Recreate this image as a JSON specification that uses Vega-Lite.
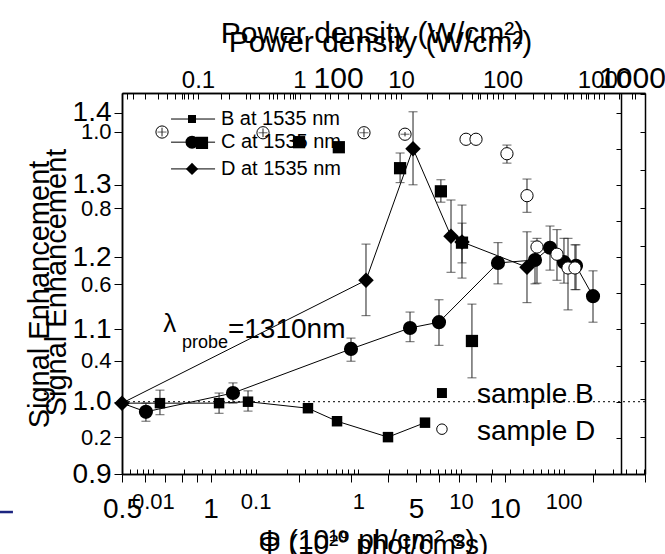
{
"$schema":"https://vega.github.io/schema/vega-lite/v6.json",
"width":523,"height":381,
"autosize":{"type":"none"},
"padding":{"left":122,"top":93,"right":20,"bottom":80},
"background":"white",
"config":{
 "font":"Liberation Sans",
 "view":{"stroke":null},
 "axis":{"grid":false,"domainColor":"#000","domainWidth":1.5,"tickColor":"#000","tickWidth":1,"labelColor":"#000","titleColor":"#000","titleFontWeight":"normal","labelFont":"Liberation Sans","titleFont":"Liberation Sans","labelOverlap":false,"labelFlush":false,"labelBound":false}
},
"datasets":{
 "pts":[
  {"set":"B","phi":0.5,"se":0.998,"start":1},
  {"set":"B","phi":0.673,"se":0.998,"lo":0.982,"hi":1.016},
  {"set":"B","phi":1.069,"se":0.998,"lo":0.984,"hi":1.012},
  {"set":"B","phi":1.341,"se":1.0,"lo":0.987,"hi":1.015},
  {"set":"B","phi":2.144,"se":0.991},
  {"set":"B","phi":2.692,"se":0.973},
  {"set":"B","phi":4.012,"se":0.951},
  {"set":"B","phi":5.36,"se":0.971},
  {"set":"C","phi":0.5,"se":0.998,"start":1},
  {"set":"C","phi":0.603,"se":0.986,"lo":0.973,"hi":0.998},
  {"set":"C","phi":1.192,"se":1.012,"lo":0.998,"hi":1.026},
  {"set":"C","phi":3.003,"se":1.073,"lo":1.056,"hi":1.088},
  {"set":"C","phi":4.767,"se":1.102,"lo":1.083,"hi":1.124},
  {"set":"C","phi":5.98,"se":1.11,"lo":1.078,"hi":1.141},
  {"set":"C","phi":9.49,"se":1.192,"lo":1.163,"hi":1.22},
  {"set":"C","phi":12.68,"se":1.196,"lo":1.163,"hi":1.222},
  {"set":"C","phi":14.26,"se":1.213,"lo":1.182,"hi":1.243},
  {"set":"C","phi":15.91,"se":1.193,"lo":1.164,"hi":1.226},
  {"set":"C","phi":17.48,"se":1.188,"lo":1.155,"hi":1.217},
  {"set":"C","phi":19.97,"se":1.146,"lo":1.11,"hi":1.181},
  {"set":"D","phi":0.5,"se":0.998},
  {"set":"D","phi":3.377,"se":1.168,"lo":1.119,"hi":1.218},
  {"set":"D","phi":4.88,"se":1.35,"lo":1.3,"hi":1.401},
  {"set":"D","phi":6.57,"se":1.229,"lo":1.179,"hi":1.279},
  {"set":"D","phi":7.16,"se":1.221,"lo":1.171,"hi":1.272},
  {"set":"D","phi":11.91,"se":1.186,"lo":1.137,"hi":1.235},
  {"set":"sB","phi":0.935,"se":1.358},
  {"set":"sB","phi":2.0,"se":1.359},
  {"set":"sB","phi":2.73,"se":1.352},
  {"set":"sB","phi":4.41,"se":1.323,"lo":1.303,"hi":1.344},
  {"set":"sB","phi":6.07,"se":1.291,"lo":1.276,"hi":1.307},
  {"set":"sB","phi":7.16,"se":1.22,"lo":1.192,"hi":1.247},
  {"set":"sB","phi":7.74,"se":1.084,"lo":1.033,"hi":1.135},
  {"set":"sD","phi":0.684,"se":1.373,"lo":1.367,"hi":1.379},
  {"set":"sD","phi":1.508,"se":1.372,"lo":1.366,"hi":1.378},
  {"set":"sD","phi":3.324,"se":1.372,"lo":1.366,"hi":1.378},
  {"set":"sD","phi":4.583,"se":1.37,"lo":1.367,"hi":1.373},
  {"set":"sD","phi":7.39,"se":1.363},
  {"set":"sD","phi":7.99,"se":1.363},
  {"set":"sD","phi":10.18,"se":1.343,"lo":1.33,"hi":1.355},
  {"set":"sD","phi":11.91,"se":1.285,"lo":1.262,"hi":1.308},
  {"set":"sD","phi":12.88,"se":1.214,"lo":1.164,"hi":1.226},
  {"set":"sD","phi":15.06,"se":1.204,"lo":1.168,"hi":1.238},
  {"set":"sD","phi":16.42,"se":1.185,"lo":1.127,"hi":1.226},
  {"set":"sD","phi":17.34,"se":1.185,"lo":1.155,"hi":1.217}
 ],
 "legend":[
  {"s":"B","x1":0.734,"x2":1.036,"xm":0.865,"xt":1.085,"se":1.391,"text":"B at 1535 nm"},
  {"s":"C","x1":0.734,"x2":1.036,"xm":0.865,"xt":1.085,"se":1.359,"text":"C at 1535 nm"},
  {"s":"D","x1":0.734,"x2":1.036,"xm":0.865,"xt":1.085,"se":1.322,"text":"D at 1535 nm"}
 ],
 "keys":[
  {"k":"sample B","phi":6.12,"se":1.012},
  {"k":"sample D","phi":6.12,"se":0.962}
 ],
 "notes":[
  {"kind":"lambda","phi":0.69,"se":1.096,"text":"λ"},
  {"kind":"sub","phi":0.8,"se":1.074,"text":"probe"},
  {"kind":"big","phi":1.146,"se":1.088,"text":"=1310nm"},
  {"kind":"big","phi":8.05,"se":0.998,"text":"sample B"},
  {"kind":"big","phi":8.05,"se":0.947,"text":"sample D"}
 ]
},
"layer":[
 {
  "layer":[
   {"data":{"values":[{"se":1.0}]},"mark":{"type":"rule","color":"#000","strokeWidth":1,"strokeDash":[2,3]},
    "encoding":{"y":{"field":"se","type":"quantitative","scale":{"domain":[0.9,1.427],"nice":false,"zero":false},"axis":null}}},
   {"data":{"values":[{"phi":0.1923,"phi2":0.2129,"se":0.8474}]},"mark":{"type":"rule","color":"#1c2580","strokeWidth":2.5},
    "encoding":{"x":{"field":"phi","type":"quantitative","scale":{"type":"log","domain":[0.5,30],"nice":false},"axis":null},"x2":{"field":"phi2"},
     "y":{"field":"se","type":"quantitative","scale":{"domain":[0.9,1.427],"nice":false,"zero":false},"axis":null}}},
   {"data":{"name":"pts"},"transform":[{"filter":"datum.set === 'B' || datum.set === 'C' || datum.set === 'D'"}],
    "mark":{"type":"line","color":"#000","strokeWidth":1},
    "encoding":{"x":{"field":"phi","type":"quantitative","scale":{"type":"log","domain":[0.5,30],"nice":false},"axis":null},
     "y":{"field":"se","type":"quantitative","scale":{"domain":[0.9,1.427],"nice":false,"zero":false},"axis":null},
     "detail":{"field":"set"},"order":{"field":"phi"}}},
   {"data":{"name":"pts"},"transform":[{"filter":"isValid(datum.lo)"}],
    "mark":{"type":"rule","color":"#222","strokeWidth":1},
    "encoding":{"x":{"field":"phi","type":"quantitative","scale":{"type":"log","domain":[0.5,30],"nice":false},"axis":null},
     "y":{"field":"lo","type":"quantitative","scale":{"domain":[0.9,1.427],"nice":false,"zero":false},"axis":null},"y2":{"field":"hi"}}},
   {"data":{"name":"pts"},"transform":[{"filter":"isValid(datum.lo)"}],
    "mark":{"type":"tick","orient":"horizontal","size":9,"thickness":1,"color":"#222"},
    "encoding":{"x":{"field":"phi","type":"quantitative","scale":{"type":"log","domain":[0.5,30],"nice":false},"axis":null},
     "y":{"field":"lo","type":"quantitative","scale":{"domain":[0.9,1.427],"nice":false,"zero":false},"axis":null}}},
   {"data":{"name":"pts"},"transform":[{"filter":"isValid(datum.hi)"}],
    "mark":{"type":"tick","orient":"horizontal","size":9,"thickness":1,"color":"#222"},
    "encoding":{"x":{"field":"phi","type":"quantitative","scale":{"type":"log","domain":[0.5,30],"nice":false},"axis":null},
     "y":{"field":"hi","type":"quantitative","scale":{"domain":[0.9,1.427],"nice":false,"zero":false},"axis":null}}},
   {"data":{"name":"pts"},"transform":[{"filter":"datum.set === 'B' && !datum.start"}],
    "mark":{"type":"point","shape":"square","size":110,"filled":true,"color":"#000","opacity":1},
    "encoding":{"x":{"field":"phi","type":"quantitative","scale":{"type":"log","domain":[0.5,30],"nice":false},"axis":null},
     "y":{"field":"se","type":"quantitative","scale":{"domain":[0.9,1.427],"nice":false,"zero":false},"axis":null}}},
   {"data":{"name":"pts"},"transform":[{"filter":"datum.set === 'sB'"}],
    "mark":{"type":"point","shape":"square","size":150,"filled":true,"color":"#000","opacity":1},
    "encoding":{"x":{"field":"phi","type":"quantitative","scale":{"type":"log","domain":[0.5,30],"nice":false},"axis":null},
     "y":{"field":"se","type":"quantitative","scale":{"domain":[0.9,1.427],"nice":false,"zero":false},"axis":null}}},
   {"data":{"name":"pts"},"transform":[{"filter":"datum.set === 'C' && !datum.start"}],
    "mark":{"type":"point","shape":"circle","size":200,"filled":true,"color":"#000","opacity":1},
    "encoding":{"x":{"field":"phi","type":"quantitative","scale":{"type":"log","domain":[0.5,30],"nice":false},"axis":null},
     "y":{"field":"se","type":"quantitative","scale":{"domain":[0.9,1.427],"nice":false,"zero":false},"axis":null}}},
   {"data":{"name":"pts"},"transform":[{"filter":"datum.set === 'D'"}],
    "mark":{"type":"point","shape":"diamond","size":240,"filled":true,"color":"#000","opacity":1},
    "encoding":{"x":{"field":"phi","type":"quantitative","scale":{"type":"log","domain":[0.5,30],"nice":false},"axis":null},
     "y":{"field":"se","type":"quantitative","scale":{"domain":[0.9,1.427],"nice":false,"zero":false},"axis":null}}},
   {"data":{"name":"pts"},"transform":[{"filter":"datum.set === 'sD'"}],
    "mark":{"type":"point","shape":"circle","size":150,"fill":"#fff","stroke":"#000","strokeWidth":1,"opacity":1},
    "encoding":{"x":{"field":"phi","type":"quantitative","scale":{"type":"log","domain":[0.5,30],"nice":false},"axis":null},
     "y":{"field":"se","type":"quantitative","scale":{"domain":[0.9,1.427],"nice":false,"zero":false},"axis":null}}},
   {"data":{"name":"pts"},"transform":[{"filter":"datum.set === 'sD' && isValid(datum.lo) && datum.hi - datum.lo < 0.02"}],
    "mark":{"type":"rule","color":"#222","strokeWidth":1},
    "encoding":{"x":{"field":"phi","type":"quantitative","scale":{"type":"log","domain":[0.5,30],"nice":false},"axis":null},
     "y":{"field":"lo","type":"quantitative","scale":{"domain":[0.9,1.427],"nice":false,"zero":false},"axis":null},"y2":{"field":"hi"}}},
   {"data":{"name":"pts"},"transform":[{"filter":"datum.set === 'sD' && isValid(datum.lo) && datum.hi - datum.lo < 0.02"}],
    "mark":{"type":"tick","orient":"horizontal","size":9,"thickness":1,"color":"#222"},
    "encoding":{"x":{"field":"phi","type":"quantitative","scale":{"type":"log","domain":[0.5,30],"nice":false},"axis":null},
     "y":{"field":"se","type":"quantitative","scale":{"domain":[0.9,1.427],"nice":false,"zero":false},"axis":null}}},
   {"data":{"name":"legend"},"mark":{"type":"rule","color":"#000","strokeWidth":1},
    "encoding":{"x":{"field":"x1","type":"quantitative","scale":{"type":"log","domain":[0.5,30],"nice":false},"axis":null},"x2":{"field":"x2"},
     "y":{"field":"se","type":"quantitative","scale":{"domain":[0.9,1.427],"nice":false,"zero":false},"axis":null}}},
   {"data":{"name":"legend"},"transform":[{"filter":"datum.s === 'B'"}],"mark":{"type":"point","shape":"square","size":64,"filled":true,"color":"#000","opacity":1},
    "encoding":{"x":{"field":"xm","type":"quantitative","scale":{"type":"log","domain":[0.5,30],"nice":false},"axis":null},
     "y":{"field":"se","type":"quantitative","scale":{"domain":[0.9,1.427],"nice":false,"zero":false},"axis":null}}},
   {"data":{"name":"legend"},"transform":[{"filter":"datum.s === 'C'"}],"mark":{"type":"point","shape":"circle","size":170,"filled":true,"color":"#000","opacity":1},
    "encoding":{"x":{"field":"xm","type":"quantitative","scale":{"type":"log","domain":[0.5,30],"nice":false},"axis":null},
     "y":{"field":"se","type":"quantitative","scale":{"domain":[0.9,1.427],"nice":false,"zero":false},"axis":null}}},
   {"data":{"name":"legend"},"transform":[{"filter":"datum.s === 'D'"}],"mark":{"type":"point","shape":"diamond","size":150,"filled":true,"color":"#000","opacity":1},
    "encoding":{"x":{"field":"xm","type":"quantitative","scale":{"type":"log","domain":[0.5,30],"nice":false},"axis":null},
     "y":{"field":"se","type":"quantitative","scale":{"domain":[0.9,1.427],"nice":false,"zero":false},"axis":null}}},
   {"data":{"name":"legend"},"mark":{"type":"text","align":"left","baseline":"middle","fontSize":20,"font":"Liberation Sans","color":"#000"},
    "encoding":{"x":{"field":"xt","type":"quantitative","scale":{"type":"log","domain":[0.5,30],"nice":false},"axis":null},
     "y":{"field":"se","type":"quantitative","scale":{"domain":[0.9,1.427],"nice":false,"zero":false},"axis":null},"text":{"field":"text"}}},
   {"data":{"name":"keys"},"transform":[{"filter":"datum.k === 'sample B'"}],"mark":{"type":"point","shape":"square","size":100,"filled":true,"color":"#000","opacity":1},
    "encoding":{"x":{"field":"phi","type":"quantitative","scale":{"type":"log","domain":[0.5,30],"nice":false},"axis":null},
     "y":{"field":"se","type":"quantitative","scale":{"domain":[0.9,1.427],"nice":false,"zero":false},"axis":null}}},
   {"data":{"name":"keys"},"transform":[{"filter":"datum.k === 'sample D'"}],"mark":{"type":"point","shape":"circle","size":110,"fill":"#fff","stroke":"#000","strokeWidth":1,"opacity":1},
    "encoding":{"x":{"field":"phi","type":"quantitative","scale":{"type":"log","domain":[0.5,30],"nice":false},"axis":null},
     "y":{"field":"se","type":"quantitative","scale":{"domain":[0.9,1.427],"nice":false,"zero":false},"axis":null}}},
   {"data":{"name":"notes"},"transform":[{"filter":"datum.kind === 'big'"}],"mark":{"type":"text","align":"left","baseline":"alphabetic","fontSize":28,"font":"Liberation Sans","color":"#000"},
    "encoding":{"x":{"field":"phi","type":"quantitative","scale":{"type":"log","domain":[0.5,30],"nice":false},"axis":null},
     "y":{"field":"se","type":"quantitative","scale":{"domain":[0.9,1.427],"nice":false,"zero":false},"axis":null},"text":{"field":"text"}}},
   {"data":{"name":"notes"},"transform":[{"filter":"datum.kind === 'sub'"}],"mark":{"type":"text","align":"left","baseline":"alphabetic","fontSize":18,"font":"Liberation Sans","color":"#000"},
    "encoding":{"x":{"field":"phi","type":"quantitative","scale":{"type":"log","domain":[0.5,30],"nice":false},"axis":null},
     "y":{"field":"se","type":"quantitative","scale":{"domain":[0.9,1.427],"nice":false,"zero":false},"axis":null},"text":{"field":"text"}}},
   {"data":{"name":"notes"},"transform":[{"filter":"datum.kind === 'lambda'"}],"mark":{"type":"text","align":"left","baseline":"alphabetic","fontSize":26,"font":"Liberation Sans","color":"#000"},
    "encoding":{"x":{"field":"phi","type":"quantitative","scale":{"type":"log","domain":[0.5,30],"nice":false},"axis":null},
     "y":{"field":"se","type":"quantitative","scale":{"domain":[0.9,1.427],"nice":false,"zero":false},"axis":null},"text":{"field":"text"}}}
  ]
 },
 {"data":{"values":[{"v":1}]},"mark":{"type":"point","opacity":0},
  "encoding":{
   "x":{"field":"v","type":"quantitative","scale":{"type":"log","domain":[0.5,30],"nice":false},
    "axis":{"orient":"bottom","values":[0.5,0.6,0.7,0.8,0.9,1,2,3,4,5,6,7,8,9,10,20,30],"format":"~g","labelExpr":"indexof([0.5,1,5,10], datum.value) >= 0 ? datum.label : ''","tickSize":8,"labelFontSize":28,"labelBaseline":"alphabetic","labelPadding":35,"title":"Φ (10²⁰ phot/cm²s)","titleFontSize":28,"titleAlign":"left","titleX":136,"titleY":79,"titleBaseline":"alphabetic"}},
   "y":{"field":"v","type":"quantitative","scale":{"domain":[0.9,1.427],"nice":false,"zero":false},
    "axis":{"orient":"left","values":[0.9,1.0,1.1,1.2,1.3,1.4],"format":".1f","tickSize":8,"labelFontSize":28,"labelPadding":3,"title":"Signal Enhancement","titleFontSize":29,"titleAngle":270,"titleX":-57,"titleY":189,"titleAlign":"center","titleBaseline":"alphabetic"}}
  }},
 {"data":{"values":[{"v":1}]},"mark":{"type":"point","opacity":0},
  "encoding":{
   "x":{"field":"v","type":"quantitative","scale":{"type":"log","domain":[18.4,1107],"nice":false},
    "axis":{"orient":"top","values":[20,30,40,50,60,70,80,90,100,200,300,400,500,600,700,800,900,1000],"format":"~g","labelExpr":"indexof([100,1000], datum.value) >= 0 ? datum.label : ''","tickSize":-6,"labelFontSize":30,"labelBaseline":"alphabetic","labelPadding":12,"title":"Power density (W/cm²)","titleFontSize":30,"titleX":258,"titleY":-42,"titleAlign":"center","titleBaseline":"alphabetic"}},
   "y":{"field":"v","type":"quantitative","scale":{"domain":[0.9,1.427],"nice":false,"zero":false},
    "axis":{"orient":"right","offset":-24,"values":[0.9,0.95,1.0,1.05,1.1,1.15,1.2,1.25,1.3,1.35,1.4],"labels":false,"tickSize":-5,"title":null}}
  }},
 {"data":{"values":[{"v":1}]},"mark":{"type":"point","opacity":0},
  "encoding":{
   "x":{"field":"v","type":"quantitative","scale":{"type":"log","domain":[0.005,618.6],"nice":false},
    "axis":{"orient":"bottom","values":[0.005,0.006,0.007,0.008,0.009,0.01,0.02,0.03,0.04,0.05,0.06,0.07,0.08,0.09,0.1,0.2,0.3,0.4,0.5,0.6,0.7,0.8,0.9,1,2,3,4,5,6,7,8,9,10,20,30,40,50,60,70,80,90,100,200,300,400,500,600],"format":"~g","labelExpr":"abs(log(datum.value)/LN10 - round(log(datum.value)/LN10)) < 0.000001 ? datum.label : ''","tickSize":-5,"labelFontSize":22,"labelBaseline":"alphabetic","labelPadding":39,"title":"Φ (10¹⁹ ph/cm² s)","titleFontSize":28,"titleAlign":"left","titleX":136,"titleY":74,"titleBaseline":"alphabetic"}},
   "y":{"field":"v","type":"quantitative","scale":{"domain":[0.103,1.102],"nice":false,"zero":false},
    "axis":{"orient":"left","values":[0.2,0.4,0.6,0.8,1.0],"format":".1f","tickSize":8,"labelFontSize":22,"labelPadding":3,"title":"Signal Enhancement","titleFontSize":29,"titleAngle":270,"titleX":-74,"titleY":201,"titleAlign":"center","titleBaseline":"alphabetic"}}
  }},
 {"data":{"values":[{"v":1}]},"mark":{"type":"point","opacity":0},
  "encoding":{
   "x":{"field":"v","type":"quantitative","scale":{"type":"log","domain":[0.01783,2534],"nice":false},
    "axis":{"orient":"top","values":[0.02,0.03,0.04,0.05,0.06,0.07,0.08,0.09,0.1,0.2,0.3,0.4,0.5,0.6,0.7,0.8,0.9,1,2,3,4,5,6,7,8,9,10,20,30,40,50,60,70,80,90,100,200,300,400,500,600,700,800,900,1000,2000],"format":"~g","labelExpr":"abs(log(datum.value)/LN10 - round(log(datum.value)/LN10)) < 0.000001 ? datum.label : ''","tickSize":-6,"labelFontSize":24,"labelBaseline":"alphabetic","labelPadding":12,"title":"Power density (W/cm²)","titleFontSize":30,"titleX":250,"titleY":-51,"titleAlign":"center","titleBaseline":"alphabetic"}},
   "y":{"field":"v","type":"quantitative","scale":{"domain":[0.103,1.102],"nice":false,"zero":false},
    "axis":{"orient":"right","values":[0.2,0.3,0.4,0.5,0.6,0.7,0.8,0.9,1.0,1.1],"labels":false,"tickSize":-5,"title":null}}
  }}
],
"resolve":{"scale":{"x":"independent","y":"independent"}}
}
